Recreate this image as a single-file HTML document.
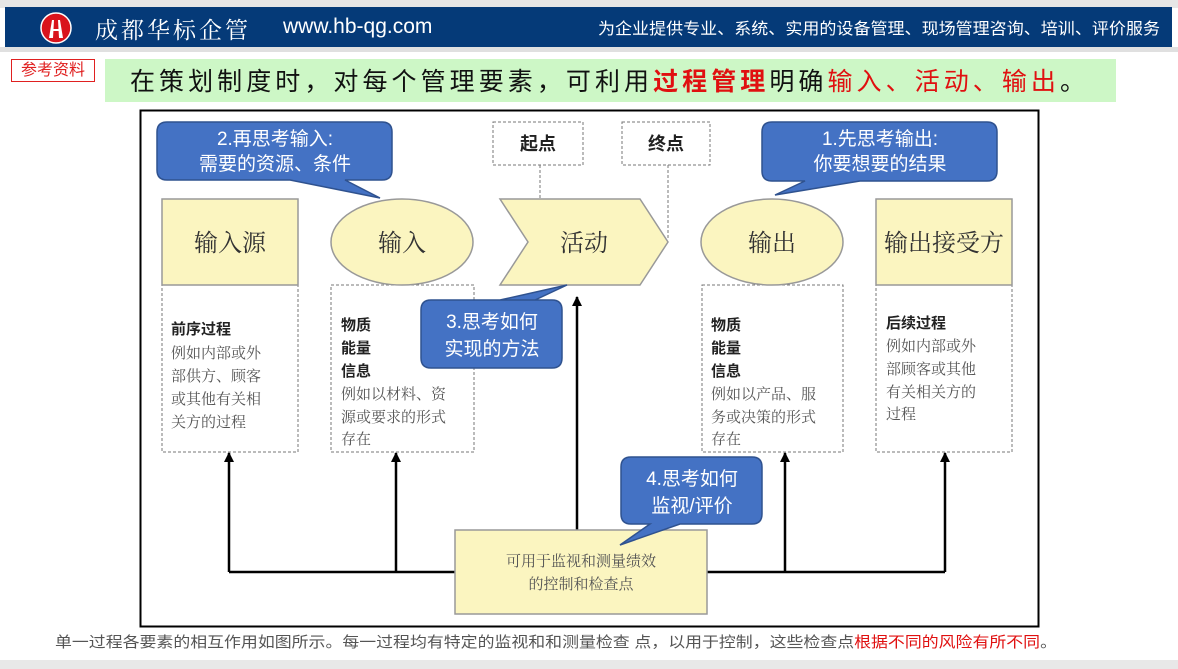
<!DOCTYPE html>
<html><head><meta charset="utf-8"><style>
body{margin:0;width:1178px;height:669px;background:#fff;overflow:hidden;font-family:"Liberation Sans","Noto Sans CJK SC",sans-serif;position:relative}
.abs{position:absolute}
</style></head><body>
<div class="abs" style="left:0;top:0;width:1178px;height:8px;background:#e6e6e6"></div>
<div class="abs" style="left:5px;top:7px;width:1167px;height:40px;background:#053a78"></div>
<div class="abs" style="left:0;top:47px;width:1178px;height:5px;background:#e0e0e0"></div>
<div class="abs" style="left:0;top:660px;width:1178px;height:9px;background:#e8e8e8"></div>
<svg class="abs" style="left:40px;top:12px" width="32" height="32"><circle cx="16" cy="16" r="15" fill="#d9141c" stroke="#fff" stroke-width="1.5"/><path d="M12 8 L14 8 L13 26 L9 26 Z M18 8 L20 8 L23 26 L19 26 Z" fill="#fff"/><rect x="11" y="17" width="10" height="2" fill="#fff"/></svg>
<div class="abs" style="left:95px;top:12px;color:#fff;font-size:23px;font-family:'Noto Serif CJK SC',serif;letter-spacing:3px">成都华标企管</div>
<div class="abs" style="left:283px;top:15px;color:#fff;font-size:21px">www.hb-qg.com</div>
<div class="abs" style="left:11px;top:59px;width:82px;height:21px;border:1px solid #e02020;color:#e02020;font-size:16px;line-height:21px;text-align:center">参考资料</div>
<div class="abs" style="left:105px;top:59px;width:1011px;height:43px;background:#cdf7c6"></div>
<svg class="abs" style="left:0;top:0" width="1178" height="669" font-family="Liberation Sans,Noto Sans CJK SC,sans-serif">
<defs><marker id="a" markerWidth="10" markerHeight="10" refX="9" refY="5" orient="auto" markerUnits="userSpaceOnUse"><path d="M0,0 L10,5 L0,10 Z" fill="#000"/></marker></defs>
<text x="598" y="34" font-size="16" fill="#fff" textLength="562" lengthAdjust="spacingAndGlyphs">为企业提供专业、系统、实用的设备管理、现场管理咨询、培训、评价服务</text>
<text x="130" y="90" font-size="25" fill="#111" textLength="955" lengthAdjust="spacing">在策划制度时，对每个管理要素，可利用<tspan fill="#e01010" font-weight="bold">过程管理</tspan>明确<tspan fill="#e01010">输入、活动、输出</tspan>。</text>
<rect x="140.5" y="110.5" width="898" height="516" fill="#fff" stroke="#000" stroke-width="2"/>
<g fill="none" stroke="#777" stroke-dasharray="3,2">
<rect x="162" y="285" width="136" height="167"/><rect x="331" y="285" width="143" height="167"/>
<rect x="702" y="285" width="141" height="167"/><rect x="876" y="285" width="136" height="167"/>
<rect x="493" y="122" width="90" height="43"/><rect x="622" y="122" width="88" height="43"/>
<line x1="540" y1="165" x2="540" y2="242"/><line x1="668" y1="165" x2="668" y2="240"/>
</g>
<g fill="#fbf5c0" stroke="#999" stroke-width="1.5">
<rect x="162" y="199" width="136" height="86"/>
<rect x="876" y="199" width="136" height="86"/>
<ellipse cx="402" cy="242" rx="71" ry="43"/>
<ellipse cx="772" cy="242" rx="71" ry="43"/>
<polygon points="500,199 640,199 668,242 640,285 500,285 528,242"/>
</g>
<g stroke="#000" stroke-width="2.5" fill="none">
<polyline points="229,572 945,572"/>
<line x1="229" y1="572" x2="229" y2="453" marker-end="url(#a)"/>
<line x1="945" y1="572" x2="945" y2="453" marker-end="url(#a)"/>
<line x1="396" y1="572" x2="396" y2="453" marker-end="url(#a)"/>
<line x1="785" y1="572" x2="785" y2="453" marker-end="url(#a)"/>
<line x1="577" y1="540" x2="577" y2="297" marker-end="url(#a)"/>
</g>
<rect x="455" y="530" width="252" height="84" fill="#fbf5c0" stroke="#999" stroke-width="1.5"/>
<g fill="#333" text-anchor="middle" font-size="24" font-family="Noto Serif CJK SC,serif">
<text x="230" y="251">输入源</text><text x="402" y="251">输入</text><text x="584" y="251">活动</text>
<text x="772" y="251">输出</text><text x="944" y="251">输出接受方</text>
</g>
<g fill="#222" font-size="18" font-weight="bold" text-anchor="middle"><text x="538" y="150">起点</text><text x="666" y="150">终点</text></g>
<g font-size="15" fill="#555" font-family="Noto Serif CJK SC,serif">
<text x="171" y="334" font-weight="bold" fill="#222" font-family="Noto Sans CJK SC,sans-serif">前序过程</text>
<text x="171" y="358">例如内部或外</text><text x="171" y="381">部供方、顾客</text><text x="171" y="404">或其他有关相</text><text x="171" y="427">关方的过程</text>
<g font-weight="bold" fill="#222" font-family="Noto Sans CJK SC,sans-serif"><text x="341" y="330">物质</text><text x="341" y="353">能量</text><text x="341" y="376">信息</text>
<text x="711" y="330">物质</text><text x="711" y="353">能量</text><text x="711" y="376">信息</text>
<text x="886" y="328">后续过程</text></g>
<text x="341" y="399">例如以材料、资</text><text x="341" y="422">源或要求的形式</text><text x="341" y="444">存在</text>
<text x="711" y="399">例如以产品、服</text><text x="711" y="422">务或决策的形式</text><text x="711" y="444">存在</text>
<text x="886" y="351">例如内部或外</text><text x="886" y="374">部顾客或其他</text><text x="886" y="397">有关相关方的</text><text x="886" y="419">过程</text>
<g text-anchor="middle"><text x="581" y="566">可用于监视和测量绩效</text><text x="581" y="589">的控制和检查点</text></g>
</g>
<g fill="#4472c4" stroke="#2f528f" stroke-width="1.5">
<path d="M167,122 H382 Q392,122 392,132 V170 Q392,180 382,180 H345 L380,198 L290,180 H167 Q157,180 157,170 V132 Q157,122 167,122 Z"/>
<path d="M772,122 H987 Q997,122 997,132 V171 Q997,181 987,181 H860 L775,195 L805,181 H772 Q762,181 762,171 V132 Q762,122 772,122 Z"/>
<path d="M431,300 H552 Q562,300 562,310 V358 Q562,368 552,368 H431 Q421,368 421,358 V310 Q421,300 431,300 H500 L567,285 L535,300 Z"/>
<path d="M631,457 H752 Q762,457 762,467 V514 Q762,524 752,524 H680 L620,545 L650,524 H631 Q621,524 621,514 V467 Q621,457 631,457 Z"/>
</g>
<g fill="#fff" font-size="19" text-anchor="middle">
<text x="275" y="145">2.再思考输入:</text><text x="275" y="170">需要的资源、条件</text>
<text x="880" y="145">1.先思考输出:</text><text x="880" y="170">你要想要的结果</text>
<text x="492" y="328">3.思考如何</text><text x="492" y="355">实现的方法</text>
<text x="692" y="485">4.思考如何</text><text x="692" y="512">监视/评价</text>
</g>
<text x="55" y="647" font-size="15" fill="#555" textLength="1002" lengthAdjust="spacingAndGlyphs">单一过程各要素的相互作用如图所示。每一过程均有特定的监视和和测量检查 点，以用于控制，这些检查点<tspan fill="#e01010">根据不同的风险有所不同</tspan>。</text>
</svg>
</body></html>
